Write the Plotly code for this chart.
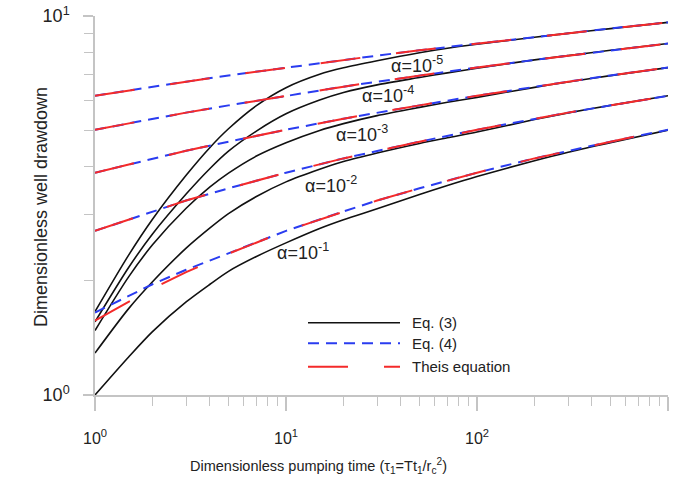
import plotly.graph_objects as go

# ---------------- data ----------------
alpha_labels = ["α=10<sup>-1</sup>", "α=10<sup>-2</sup>", "α=10<sup>-3</sup>", "α=10<sup>-4</sup>", "α=10<sup>-5</sup>"]

tau_eq3 = [1, 1.5, 2, 3, 4, 5, 7, 10, 15, 20, 30, 50, 70, 100, 200, 300, 500, 1000]
eq3_a1 = [1.00, 1.26, 1.47, 1.76, 1.96, 2.12, 2.32, 2.52, 2.75, 2.90, 3.10, 3.38, 3.57, 3.77, 4.15, 4.37, 4.63, 5.00]
eq3_a2 = [1.29, 1.69, 1.99, 2.44, 2.76, 3.01, 3.34, 3.65, 3.94, 4.13, 4.35, 4.61, 4.77, 4.94, 5.33, 5.55, 5.81, 6.16]
eq3_a3 = [1.48, 2.05, 2.49, 3.11, 3.54, 3.85, 4.27, 4.63, 4.99, 5.20, 5.46, 5.74, 5.92, 6.10, 6.48, 6.70, 6.96, 7.31]
eq3_a4 = [1.56, 2.17, 2.66, 3.39, 3.96, 4.40, 4.97, 5.52, 6.00, 6.28, 6.58, 6.88, 7.08, 7.28, 7.66, 7.86, 8.12, 8.46]
eq3_a5 = [1.66, 2.34, 2.91, 3.80, 4.50, 5.04, 5.80, 6.47, 7.02, 7.30, 7.62, 8.00, 8.22, 8.42, 8.79, 9.00, 9.26, 9.62]

tau_line = [1, 2, 3, 5, 10, 20, 30, 50, 100, 200, 300, 500, 1000]
theis_a1 = [1.57, 1.91, 2.11, 2.36, 2.71, 3.05, 3.26, 3.51, 3.86, 4.21, 4.41, 4.66, 5.01]
theis_a2 = [2.71, 3.05, 3.26, 3.51, 3.86, 4.21, 4.41, 4.66, 5.01, 5.36, 5.56, 5.81, 6.16]
theis_a3 = [3.86, 4.21, 4.41, 4.66, 5.01, 5.36, 5.56, 5.81, 6.16, 6.51, 6.71, 6.97, 7.31]
theis_a4 = [5.01, 5.36, 5.56, 5.81, 6.16, 6.51, 6.71, 6.97, 7.31, 7.66, 7.86, 8.12, 8.46]
theis_a5 = [6.16, 6.51, 6.71, 6.97, 7.31, 7.66, 7.86, 8.12, 8.46, 8.81, 9.01, 9.27, 9.62]

eq4_a1 = [1.65, 1.96, 2.14, 2.37, 2.71, 3.05, 3.26, 3.51, 3.86, 4.21, 4.41, 4.66, 5.01]
eq4_a2 = theis_a2
eq4_a3 = theis_a3
eq4_a4 = theis_a4
eq4_a5 = theis_a5

x_tickvals = [1, 10, 100, 1000]
x_ticktext = ["10<sup>0</sup>", "10<sup>1</sup>", "10<sup>2</sup>", "10<sup>3</sup>"]
y_tickvals = [1, 10]
y_ticktext = ["10<sup>0</sup>", "10<sup>1</sup>"]
legend_names = ["Eq. (3)", "Eq. (4)", "Theis equation"]

# ---------------- styles ----------------
BLACK = "#111111"
BLUE = "#2a3cf0"
RED = "#f42a2a"
AXIS_GRAY = "#c4c4c4"
TXT = "#222222"
SANS = "Liberation Sans, Arial, sans-serif"
RED_DASH = "40px,36px"
BLUE_DASH = "11px,7px"

fig = go.Figure()

eq3_all = [eq3_a1, eq3_a2, eq3_a3, eq3_a4, eq3_a5]
eq4_all = [eq4_a1, eq4_a2, eq4_a3, eq4_a4, eq4_a5]
theis_all = [theis_a1, theis_a2, theis_a3, theis_a4, theis_a5]

for ys in eq3_all:
    fig.add_trace(go.Scatter(x=tau_eq3, y=ys, mode="lines", showlegend=False,
                             line=dict(color=BLACK, width=1.6, shape="spline", smoothing=0.8),
                             hoverinfo="skip"))
for ys in eq4_all:
    fig.add_trace(go.Scatter(x=tau_line, y=ys, mode="lines", showlegend=False,
                             line=dict(color=BLUE, width=2, dash=BLUE_DASH),
                             hoverinfo="skip"))
for ys in theis_all:
    fig.add_trace(go.Scatter(x=tau_line, y=ys, mode="lines", showlegend=False,
                             line=dict(color=RED, width=2, dash=RED_DASH),
                             hoverinfo="skip"))

# plot area in px: x 95..668, y 16..395
W, H = 678, 485
L, R, T, B = 95, 10, 16, 90
PW, PH = W - L - R, H - T - B


def px_to_paper(px, py):
    return (px - L) / PW, (H - B - py) / PH


# curve labels (positions in pixels of the reference)
label_pos = [(303, 251), (331, 185), (362, 133), (388, 94), (417, 64)]
for text, (px, py) in zip(alpha_labels, label_pos):
    xp, yp = px_to_paper(px, py)
    fig.add_annotation(x=xp, y=yp, xref="paper", yref="paper", text=text, showarrow=False,
                       font=dict(family=SANS, size=18, color=TXT),
                       xanchor="center", yanchor="middle")

# legend drawn manually to reproduce the long sample lines
leg_rows = [322.7, 343.3, 366.7]
leg_styles = [dict(color=BLACK, width=1.6), dict(color=BLUE, width=2, dash=BLUE_DASH),
              dict(color=RED, width=2, dash=RED_DASH)]
for name, py, st in zip(legend_names, leg_rows, leg_styles):
    x0, y0 = px_to_paper(308, py)
    x1, _ = px_to_paper(400, py)
    fig.add_shape(type="line", xref="paper", yref="paper", x0=x0, x1=x1, y0=y0, y1=y0, line=st)
    xt, _ = px_to_paper(410, py)
    fig.add_annotation(x=xt, y=y0, xref="paper", yref="paper", text=name, showarrow=False,
                       xanchor="left", yanchor="middle",
                       font=dict(family=SANS, size=15, color=TXT))

# axis titles
xt, yt = px_to_paper(318, 466)
fig.add_annotation(x=xt, y=yt, xref="paper", yref="paper",
                   text="Dimensionless pumping time (τ<sub>1</sub>=Tt<sub>1</sub>/r<sub>c</sub><sup>2</sup>)",
                   showarrow=False, xanchor="center", yanchor="middle",
                   font=dict(family=SANS, size=14.5, color=TXT))
xt, yt = px_to_paper(41, 207)
fig.add_annotation(x=xt, y=yt, xref="paper", yref="paper", text="Dimensionless well drawdown",
                   showarrow=False, textangle=-90, xanchor="center", yanchor="middle",
                   font=dict(family=SANS, size=18, color=TXT))

minor_x = [m * 10 ** k for k in range(3) for m in range(2, 10)]
minor_y = [m for m in range(2, 10)]

fig.update_xaxes(type="log", range=[0, 3], showgrid=False, zeroline=False,
                 showline=True, linecolor=AXIS_GRAY, linewidth=1.5,
                 ticks="outside", ticklen=14, tickwidth=1.5, tickcolor=AXIS_GRAY,
                 tickmode="array", tickvals=x_tickvals, ticktext=x_ticktext,
                 ticklabelstandoff=14,
                 tickfont=dict(family=SANS, size=16, color=TXT),
                 minor=dict(tickmode="array", tickvals=minor_x, ticks="outside", ticklen=9,
                            tickwidth=1.2, tickcolor=AXIS_GRAY, showgrid=False),
                 automargin=False)
fig.update_yaxes(type="log", range=[0, 1], showgrid=False, zeroline=False,
                 showline=True, linecolor=AXIS_GRAY, linewidth=1.5,
                 ticks="outside", ticklen=10, tickwidth=1.5, tickcolor=AXIS_GRAY,
                 tickmode="array", tickvals=y_tickvals, ticktext=y_ticktext,
                 ticklabelstandoff=10,
                 tickfont=dict(family=SANS, size=18, color=TXT),
                 minor=dict(tickmode="array", tickvals=minor_y, ticks="outside", ticklen=9,
                            tickwidth=1.2, tickcolor=AXIS_GRAY, showgrid=False),
                 automargin=False)

fig.update_layout(width=W, height=H, margin=dict(l=L, r=R, t=T, b=B),
                  paper_bgcolor="white", plot_bgcolor="white", showlegend=False)

fig.write_html("out.html", config={"displayModeBar": False},
               post_script="document.body.style.margin='0px';")
